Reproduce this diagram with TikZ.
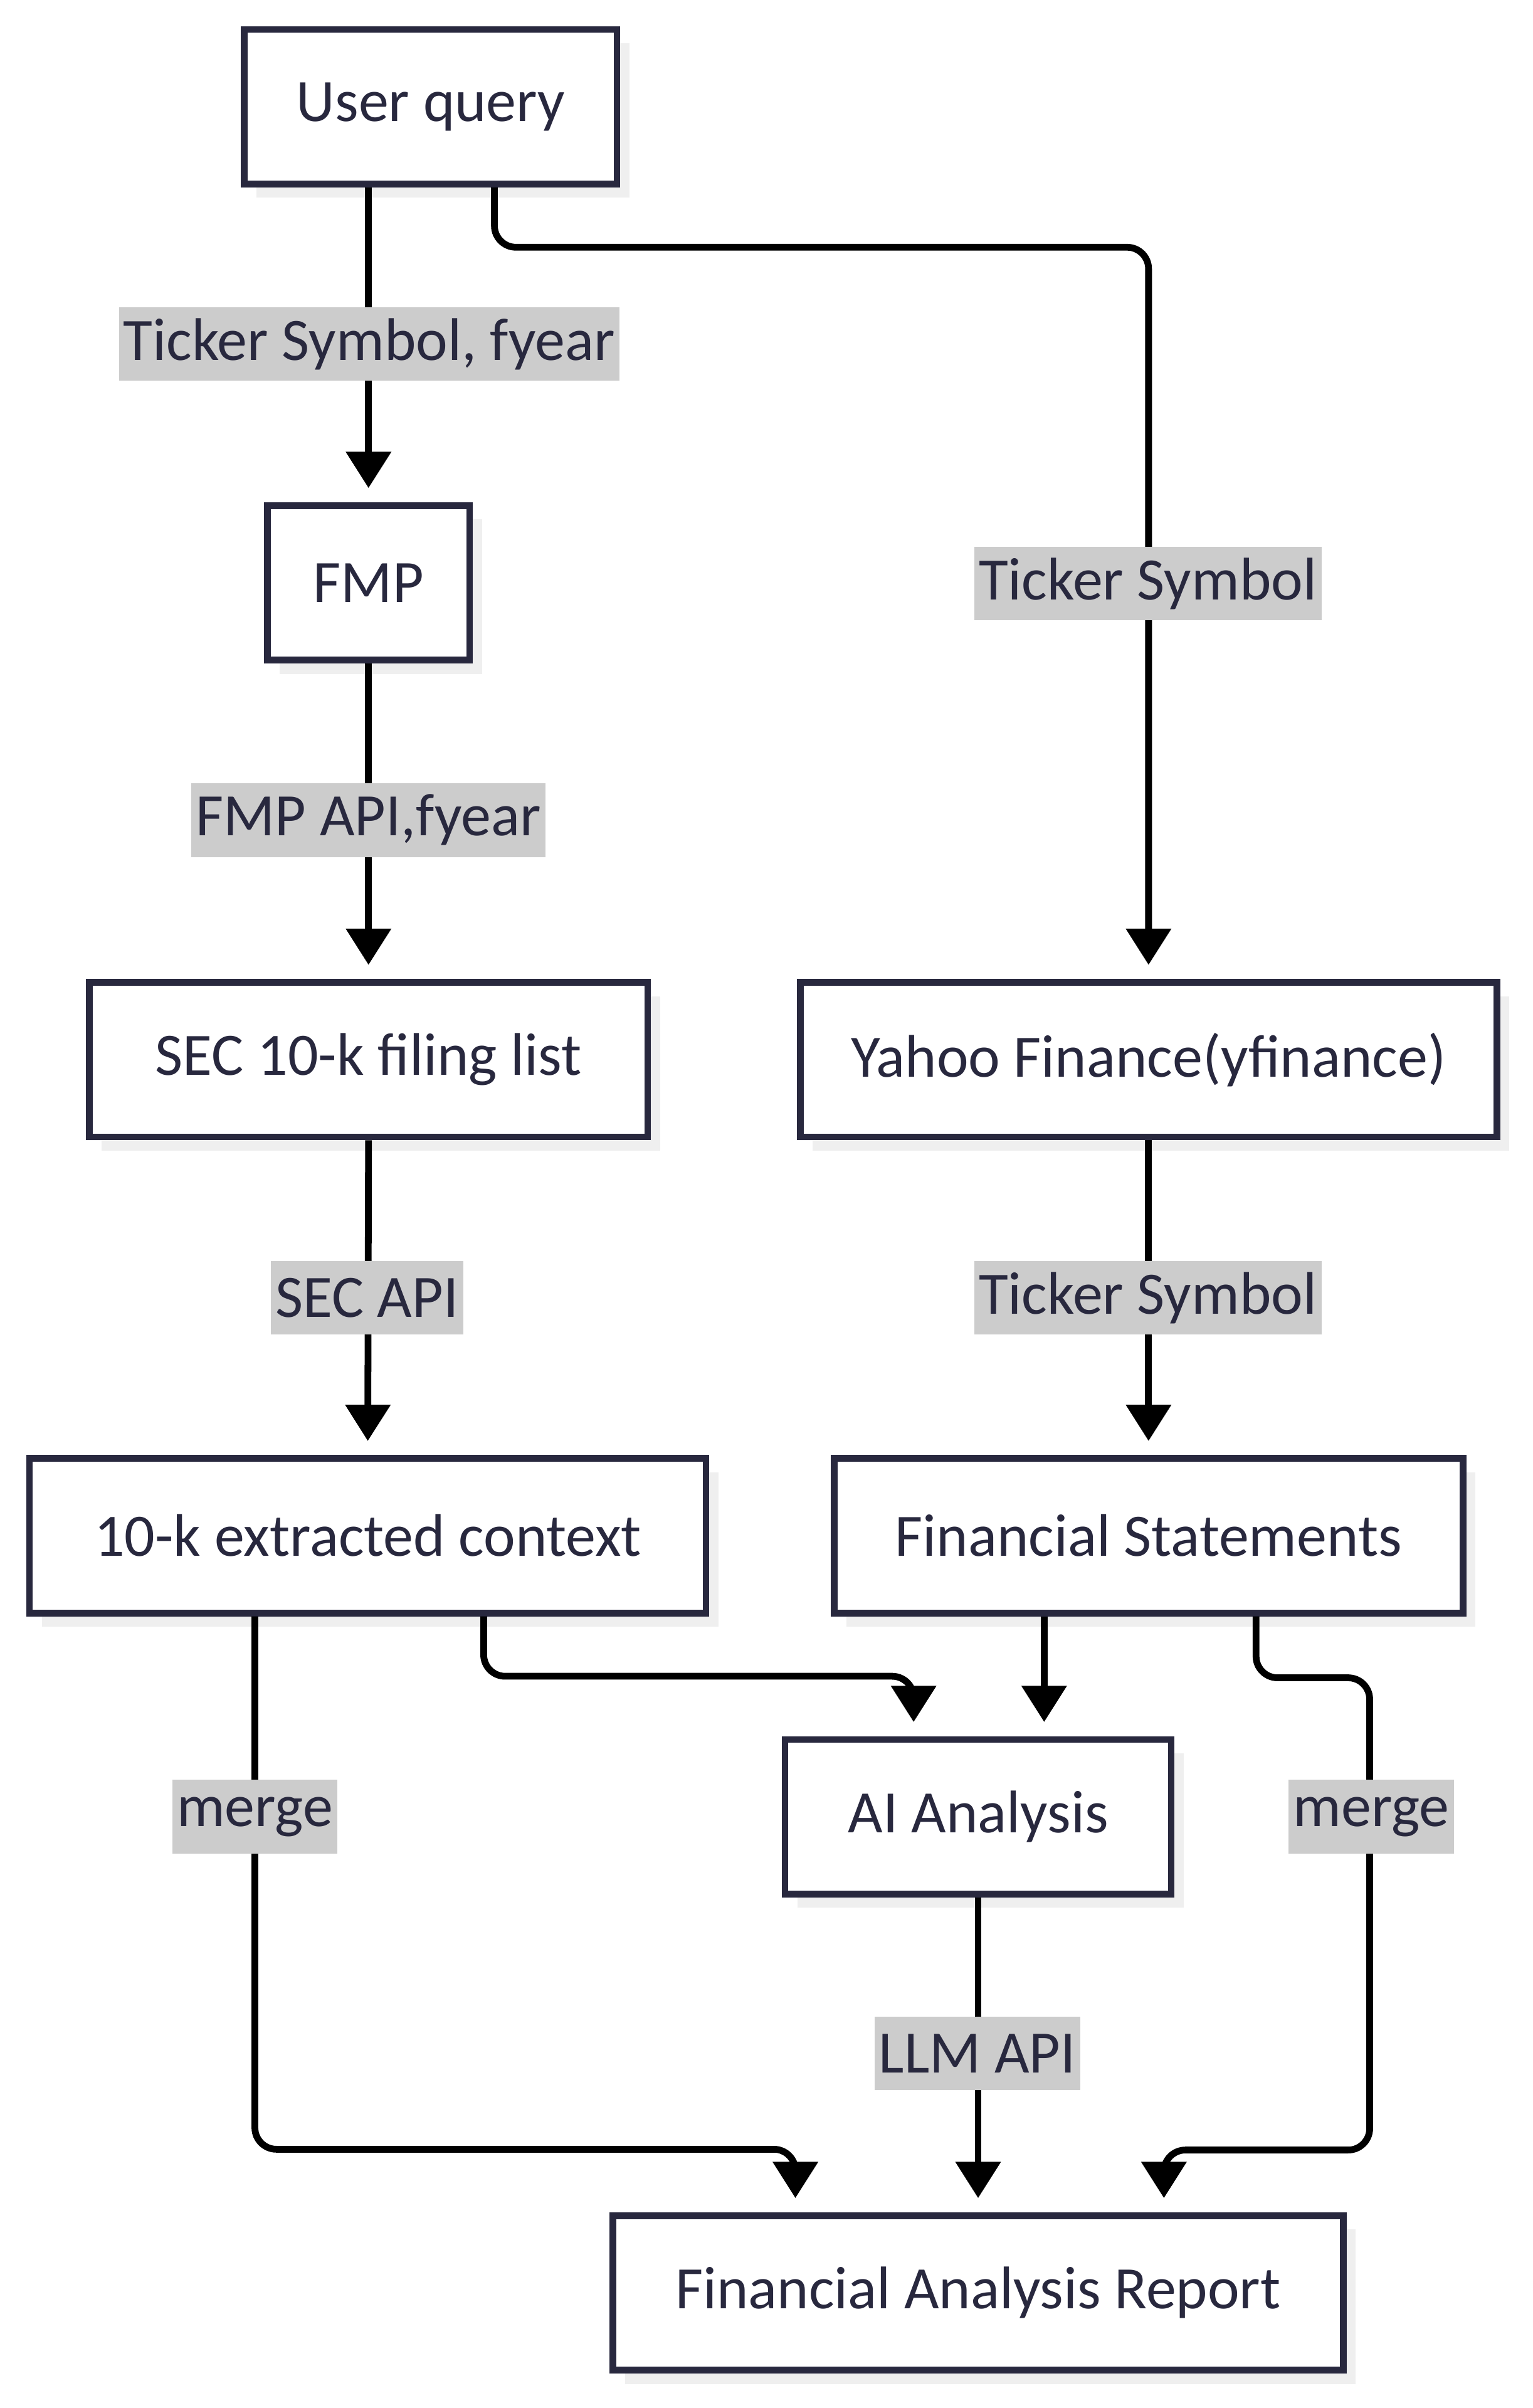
\documentclass[tikz,border=0pt]{standalone}
\usepackage{fontspec}
\setmainfont{Carlito}
\usepackage{xcolor}
\usepackage{tikz}
\usetikzlibrary{arrows.meta,calc,shadows}
\definecolor{ink}{RGB}{40,40,62}
\definecolor{tagfill}{RGB}{204,204,204}
\definecolor{shade}{RGB}{239,239,239}

\begin{document}
\begin{tikzpicture}[x=0.5pt,y=-0.5pt,
		box/.style={draw=ink,line width=2.2pt,fill=white,text=ink,minimum width=#1,minimum height=50.3pt,
			font=\fontsize{19.6pt}{23pt}\selectfont,
			drop shadow={shadow xshift=4pt,shadow yshift=-4.5pt,fill=shade,opacity=1}},
		tag/.style={fill=tagfill,text=ink,inner xsep=1.5pt,inner ysep=0pt,minimum height=24pt,
			font=\fontsize{19.6pt}{23pt}\selectfont},
		flow/.style={draw=black,line width=2.2pt,rounded corners=7pt,
			-{Triangle[length=11.8pt,width=14.3pt]},shorten >=4.6pt}]
		\useasboundingbox (0,0) rectangle (998,1568);
		\node[box=121.3pt] (quser) at (280.5,69.5) {User query};
		\node[box=65.8pt] (fmp) at (240,379.5) {FMP};
		\node[box=181.8pt] (sec) at (240,690) {SEC 10-k filing list};
		\node[box=226.8pt] (yahoo) at (748,690) {Yahoo Finance(yfinance)};
		\node[box=220.3pt] (ctx) at (239.5,1000) {10-k extracted context};
		\node[box=204.8pt] (fs) at (748,1000) {Financial Statements};
		\node[box=125.8pt] (ai) at (637,1183) {AI Analysis};
		\node[box=237.8pt] (report) at (637,1493) {Financial Analysis Report};

		\draw[flow] (quser.south -| fmp.north) -- (fmp.north);
		\draw[flow] ($(quser.south)+(41.5,0)$) -- ++(0,39) -| (yahoo.north);
		\draw[flow] (fmp.south) -- (sec.north);
		\draw[flow] (sec.south) -- (ctx.north);
		\draw[flow] (yahoo.south) -- (fs.north);
		\draw[flow] ($(ctx.south)+(75.5,0)$) -- ++(0,39) -| ($(ai.north)+(-42,0)$);
		\draw[flow] ($(fs.south)+(-68,0)$) -- ($(ai.north)+(43,0)$);
		\draw[flow] ($(ctx.south)+(-73.5,0)$) |- ($(report.north)+(-119,-41)$) -- ($(report.north)+(-119,0)$);
		\draw[flow] ($(fs.south)+(70,0)$) -- ++(0,40) -| (892,1400) -| ($(report.north)+(121,0)$);
		\draw[flow] (ai.south) -- (report.north);

		\node[tag] (t1) at (240.5,224) {Ticker Symbol, fyear};
		\node[tag] (t2) at (747.5,380) {Ticker Symbol};
		\node[tag] (t3) at (240,534) {FMP API,fyear};
		\node[tag] (t4) at (239,845) {SEC API};
		\node[tag] (t5) at (747.5,845) {Ticker Symbol};
		\node[tag] (t6) at (166,1183) {merge};
		\node[tag] (t7) at (893,1183) {merge};
		\node[tag] (t8) at (636.5,1337) {LLM API};
	\end{tikzpicture}
\end{document}
